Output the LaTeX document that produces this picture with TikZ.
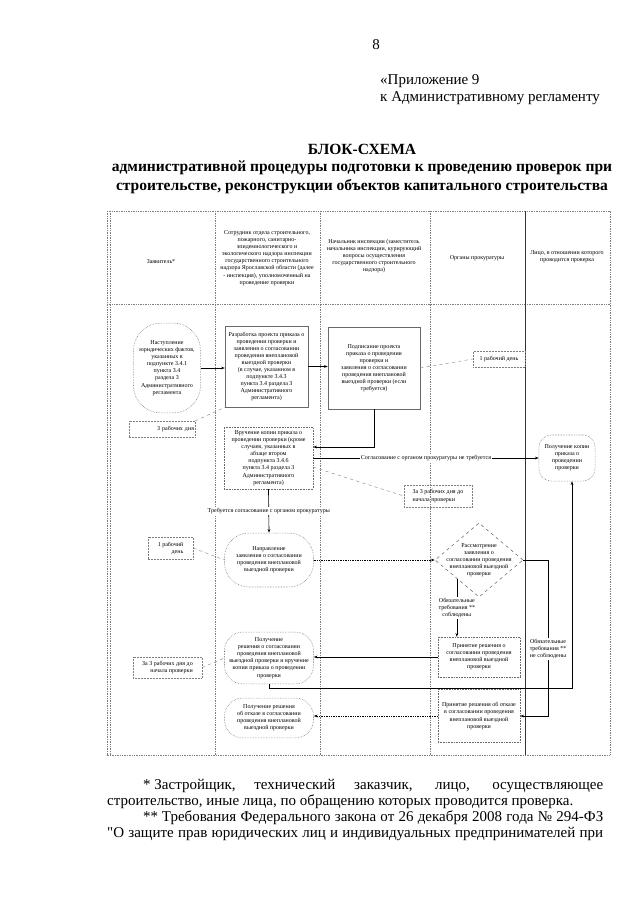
\documentclass[tikz,border=0pt]{standalone}
\usepackage{fontspec}
\setmainfont{Liberation Serif}
\newfontfamily\plainquote{Liberation Serif}[Ligatures=TeXOff]
\usetikzlibrary{arrows.meta,positioning,shapes.geometric,calc}
\definecolor{laneGray}{RGB}{125,125,125}
\definecolor{boxGray}{RGB}{105,105,105}
\newcommand{\SchemeFont}{\fontsize{5.6}{6.6}\selectfont}
\newcommand{\PageFont}{\fontsize{14}{16}\selectfont}
\newcommand{\TitleFont}{\fontsize{14.5}{16}\selectfont\bfseries}

\begin{document}
\begin{tikzpicture}[x=0.328mm,y=-0.328mm,
  lane/.style={densely dotted,draw=laneGray,line width=0.6pt},
  pagetext/.style={font=\PageFont,inner sep=0pt},
  headtext/.style={font=\SchemeFont,align=center,inner sep=0pt},
  procbox/.style={draw=boxGray,line width=0.5pt,align=center,font=\SchemeFont,inner sep=1pt},
  dotbox/.style={procbox,densely dotted},
  eventbox/.style={procbox,densely dotted,rounded corners=#1},
  eventbox/.default=4mm,
  notebox/.style={draw=laneGray,densely dotted,line width=0.4pt,font=\SchemeFont,inner sep=1pt},
  flow/.style={-{Stealth[length=3.5pt,width=2.6pt]},line width=0.6pt},
  callout/.style={dashed,draw=laneGray,line width=0.35pt},
  edgetext/.style={fill=white,font=\SchemeFont,align=center,inner sep=1pt}]
\useasboundingbox (0,0) rectangle (640,905);

% page head
\node[pagetext,anchor=base] (pagenum) at (376,50) {8};
\node[pagetext,anchor=base west] (annex) at (380,85) {«Приложение 9};
\node[pagetext,anchor=base west] (annexto) at (380,102) {к Административному регламенту};
\node[pagetext,font=\TitleFont,anchor=base] (title) at (362,155) {БЛОК-СХЕМА};
\node[pagetext,font=\TitleFont,anchor=base] (subtitle) at (362,172) {административной процедуры подготовки к проведению проверок при};
\node[pagetext,font=\TitleFont,anchor=base] (subtitlend) at (362,190) {строительстве, реконструкции объектов капитального строительства};

% lanes
\draw[lane] (107,211) rectangle (610,755);
\draw[lane] (110,211) -- (110,755);
\draw[lane] (107,304) -- (610,304);
\draw[lane] (215,211) -- (215,755) (320,211) -- (320,755) (430,211) -- (430,755);
\draw[draw=black!80,line width=0.5pt] (525,211) -- (525,755);

\node[headtext] (applicant) at (161,262) {Заявитель*};
\node[headtext] (inspector) at (267,258) {Сотрудник отдела строительного,\\пожарного, санитарно-\\эпидемиологического и\\экологического надзора инспекции\\государственного строительного\\надзора Ярославской области (далее\\- инспекция), уполномоченный на\\проведение проверки};
\node[headtext] (chief) at (374,256) {Начальник инспекции (заместитель\\начальника инспекции, курирующий\\вопросы осуществления\\государственного строительного\\надзора)};
\node[headtext] (prosecutor) at (477,258) {Органы прокуратуры};
\node[headtext] (subject) at (567,257) {Лицо, в отношении которого\\проводится проверка};

% steps
\node[eventbox=9mm,minimum width=22mm,minimum height=29.5mm] (fact) at (167,368) {Наступление\\юридических фактов,\\указанных в\\подпункте 3.4.1\\пункта 3.4\\раздела 3\\Административного\\регламента};
\node[procbox,minimum width=27.2mm,minimum height=26.6mm] (draft) at (266.5,366.5) {Разработка проекта приказа о\\проведении проверки и\\заявления о согласовании\\проведения внеплановой\\выездной проверки\\(в случае, указанном в\\подпункте 3.4.3\\пункта 3.4 раздела 3\\Административного\\регламента)};
\node[procbox,minimum width=30.2mm,minimum height=26.9mm] (sign) at (374,368) {Подписание проекта\\приказа о проведении\\проверки и\\заявления о согласовании\\проведения внеплановой\\выездной проверки (если\\требуется)};
\node[dotbox,minimum width=29.2mm,minimum height=20.3mm] (copy) at (268.5,458) {Вручение копии приказа о\\проведении проверки (кроме\\случаев, указанных в\\абзаце втором\\подпункта 3.4.6\\пункта 3.4 раздела 3\\Административного\\регламента)};
\node[eventbox=4mm,minimum width=18.4mm,minimum height=15.1mm] (getcopy) at (567,458) {Получение копии\\приказа о\\проведении\\проверки};
\node[eventbox=8mm,minimum width=29.2mm,minimum height=17.7mm] (send) at (269,560) {Направление\\заявления о согласовании\\проведения внеплановой\\выездной проверки};
\node[diamond,draw=boxGray,dashed,line width=0.5pt,minimum width=28.9mm,minimum height=24.3mm,inner sep=0pt,
  label={[font=\SchemeFont,align=center]center:Рассмотрение\\заявления о\\согласовании проведения\\внеплановой выездной\\проверки}] (review) at (479,560) {};
\node[dotbox,minimum width=26.9mm,minimum height=13.1mm] (ok) at (479,657) {Принятие решения о\\согласовании проведения\\внеплановой выездной\\проверки};
\node[eventbox=6mm,minimum width=29.2mm,minimum height=17mm] (approved) at (269,658) {Получение\\решения о согласовании\\проведения внеплановой\\выездной проверки и вручение\\копии приказа о проведении\\проверки};
\node[dotbox,minimum width=26.9mm,minimum height=17.4mm] (refuse) at (479,716) {Принятие решения об отказе\\в согласовании проведения\\внеплановой выездной\\проверки};
\node[eventbox=6mm,minimum width=29.2mm,minimum height=13.1mm] (refused) at (269,718) {Получение решения\\об отказе в согласовании\\проведения внеплановой\\выездной проверки};

% terms
\node[notebox,minimum width=17mm,minimum height=5.2mm] (oneday) at (499,359) {1 рабочий день};
\node[notebox,align=right,text width=21mm,minimum height=5.2mm] (threedays) at (162,429) {3 рабочих дня};
\node[notebox,align=left,minimum width=22.3mm,minimum height=7.2mm] (beforecheck) at (438,496) {За 3 рабочих дня до\\начала проверки};
\node[notebox,align=right,minimum width=14.8mm,minimum height=7.2mm] (onedaysend) at (170.5,548) {1 рабочий\\день};
\node[notebox,align=right,minimum width=22.6mm,minimum height=6.9mm] (beforeserve) at (167.5,667.5) {За 3 рабочих дня до\\начала проверки};

\draw[callout] (sign.east) -- (oneday.west);
\draw[callout] (threedays.north east) -- (draft.south west);
\draw[callout] ([yshift=-3mm]copy.east) -- (beforecheck.west);
\draw[callout] (onedaysend.east) -- (send.west);
\draw[callout] (beforeserve.east) -- (approved.west);

% connectors
\draw[flow] (fact.east) -- (fact.east -| draft.west);
\draw[flow] (draft.east) -- (draft.east -| sign.west);
\draw[flow] (sign.south) |- ([yshift=3.6mm]copy.east);
\draw[flow] (copy.east) -- node[edgetext] {Согласование с органом прокуратуры не требуется} (getcopy.west);
\draw[flow] (copy.south) -- node[edgetext] {Требуется согласование с органом прокуратуры} (send.north);
\draw[flow,densely dotted] (send.east) -- (review.west);
\draw[flow] (review.south west) -- node[edgetext] {Обязательные\\требования **\\соблюдены} (review.south west |- ok.north);
\coordinate (fail) at (548,560);
\draw[flow] (review.east) -- (fail) -- node[pos=0.57,edgetext] {Обязательные\\требования **\\не соблюдены} (fail |- refuse.east) -- (refuse.east);
\draw[flow] (ok.west) -- (ok.west -| approved.east);
\coordinate (served) at (572,688);
\draw[flow] (approved.south) |- (served) -- (served |- getcopy.south);
\draw[flow,densely dotted] (refuse.west) -- (refuse.west -| refused.east);

% footnotes
\node[pagetext,anchor=base west] (footone) at (143,789) {\makebox[150.9mm][s]{\mbox{* Застройщик,} технический заказчик, лицо, осуществляющее}};
\node[pagetext,anchor=base west] (footonend) at (107,805) {строительство, иные лица, по обращению которых проводится проверка.};
\node[pagetext,anchor=base west] (foottwo) at (143,821) {\makebox[150.9mm][s]{\mbox{** Требования} Федерального закона от 26 декабря 2008 года № 294-ФЗ}};
\node[pagetext,anchor=base west] (foottwond) at (107,837) {\makebox[162.7mm][s]{{\plainquote"}О защите прав юридических лиц и индивидуальных предпринимателей при}};
\end{tikzpicture}
\end{document}
